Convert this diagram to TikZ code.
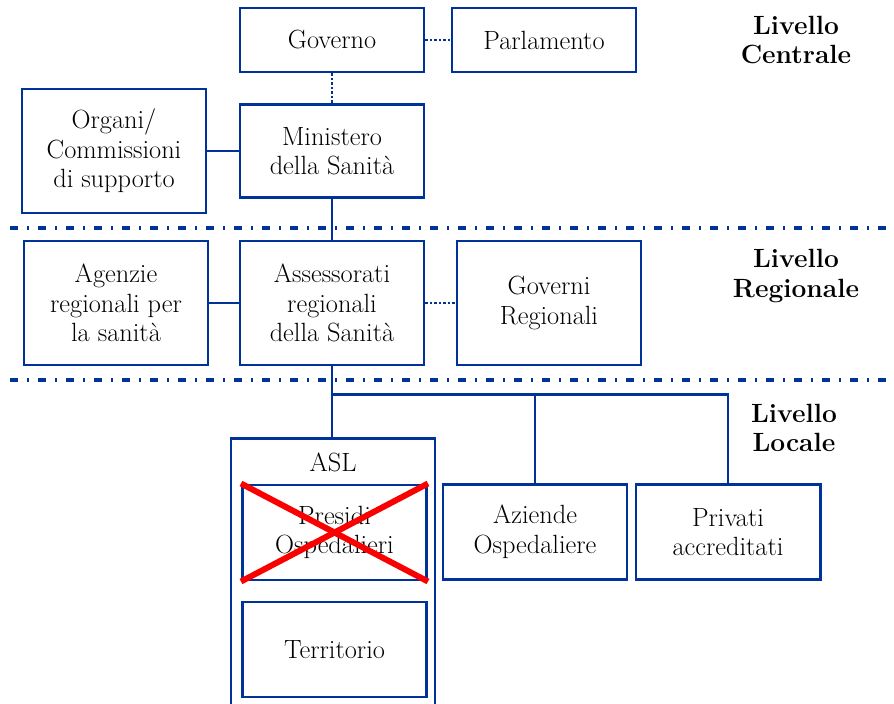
\documentclass[tikz,border=0pt]{standalone}
\usepackage{tikz}
\usetikzlibrary{calc,positioning}
\usepackage{xcolor}
\definecolor{orgblue}{RGB}{0,51,153}
\definecolor{crossred}{RGB}{250,0,0}
\tikzset{
  box/.style={draw=orgblue, line width=1.7pt, minimum width=36.8mm, align=center, inner sep=0pt,
    font=\fontsize{15}{16.8}\selectfont},
  conn/.style={draw=orgblue, line width=1.3pt},
  dots/.style={draw=orgblue, line width=1.4pt, dash pattern=on 0.45mm off 0.45mm},
  lvl/.style={align=center, font=\fontsize{15}{16.8}\selectfont\bfseries},
  sep/.style={draw=orgblue, line width=1.8pt, dash pattern=on 1.6mm off 1.8mm on 0.4mm off 1.8mm}
}

\begin{document}
\begin{tikzpicture}[x=0.2mm, y=-0.2mm]
            \clip (0,0) rectangle (894,704);
            % livello centrale
            \node[box, minimum height=12.8mm] (gov) at (332,40) {Governo};
            \node[box, minimum height=12.8mm] (parl) at (544,40) {Parlamento};
            \node[box, minimum height=24.8mm] (organi) at (114,151) {Organi/\\Commissioni\\di supporto};
            \node[box, minimum height=18.6mm] (min) at (332,151) {Ministero\\della Sanit\`a};
            % livello regionale
            \node[box, minimum height=24.8mm] (agenz) at (116,303) {Agenzie\\regionali per\\la sanit\`a};
            \node[box, minimum height=24.8mm] (assess) at (332,303) {Assessorati\\regionali\\della Sanit\`a};
            \node[box, minimum height=24.8mm] (govreg) at (549,303) {Governi\\Regionali};
            % livello locale
            \node[box, minimum width=40.8mm, minimum height=58mm, anchor=north] (asl) at (333,437) {};
            \node[font=\fontsize{15}{16.8}\selectfont] (asllbl) at (333,462) {ASL};
            \node[box, minimum height=19mm] (presidi) at (334.5,532.5) {Presidi\\Ospedalieri};
            \node[box, minimum height=19mm] (terr) at (334.5,649.5) {Territorio};
            \node[box, minimum height=19mm] (aziende) at (535,532) {Aziende\\Ospedaliere};
            \node[box, minimum height=19mm] (privati) at (728,532) {Privati\\accreditati};

            \node[lvl] (lvlc) at (796,40) {Livello\\Centrale};
            \node[lvl] (lvlr) at (796,276) {Livello\\Regionale};
            \node[lvl] (lvll) at (794,428) {Livello\\Locale};

            \draw[sep] (10,228) -- (894,228);
            \draw[sep] (10,380) -- (894,380);

            \draw[dots] (gov) -- (parl);
            \draw[dots] (gov) -- (min);
            \draw[conn] (organi) -- (min);
            \draw[conn] (min) -- (assess);
            \draw[conn] (agenz) -- (assess);
            \draw[dots] (assess) -- (govreg);
            \draw[conn] (assess.south) -- (assess.south |- asl.north);
            \coordinate (bus) at ($(assess.south)+(0,28)$);
            \draw[conn] (bus) -| (aziende.north);
            \draw[conn] (bus) -| (privati.north);

            %   \draw[crossred] (presidi.north west) rectangle (presidi.south east);
            \draw[crossred, line width=3.4pt] (presidi.north west) -- (presidi.south east);
            \draw[crossred, line width=3.4pt] (presidi.south west) -- (presidi.north east);
        \end{tikzpicture}
\end{document}
